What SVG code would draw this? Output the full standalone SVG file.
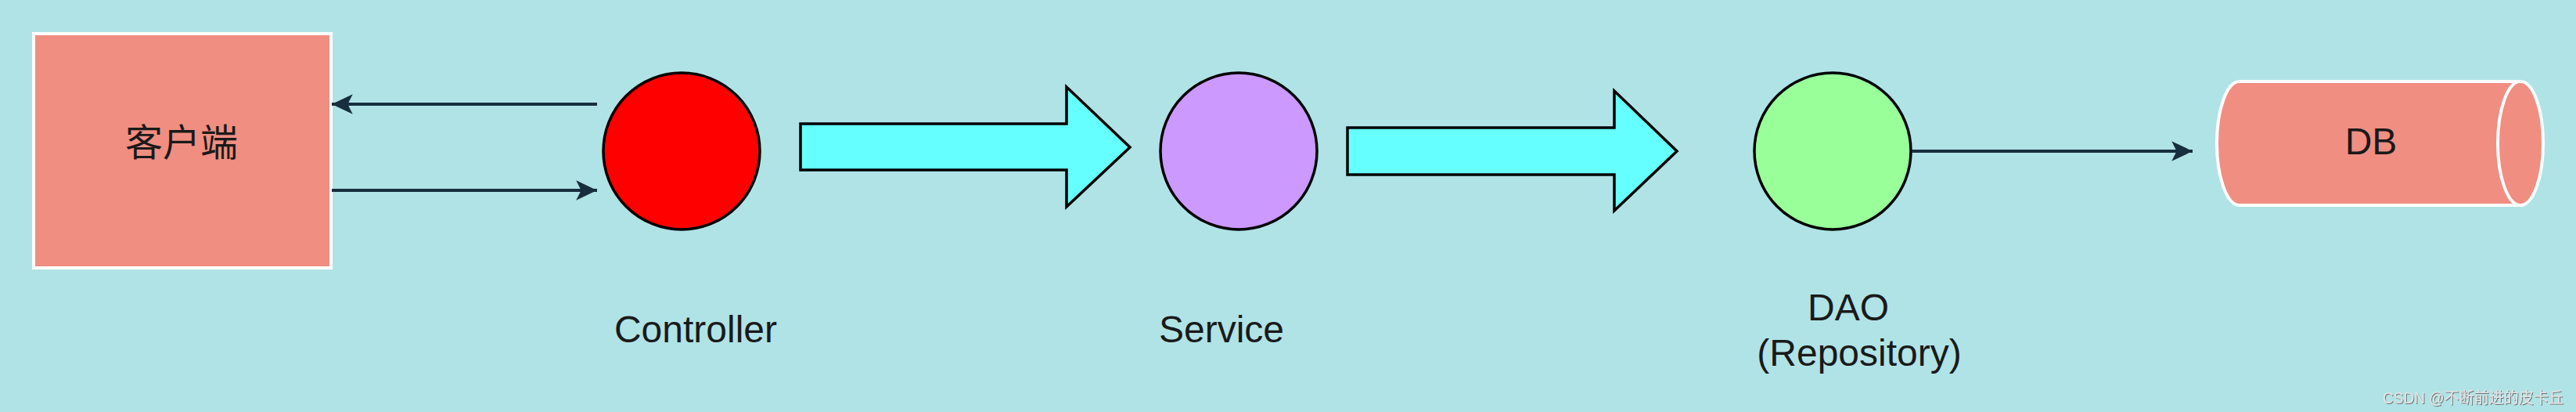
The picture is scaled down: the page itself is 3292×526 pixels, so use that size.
<svg xmlns="http://www.w3.org/2000/svg" width="3292" height="526" viewBox="0 0 3292 526">
<style>
.lbl{font-family:"Liberation Sans",Arial,sans-serif;font-size:48px;fill:#1a1a1a;text-anchor:middle}
.cjk{font-family:"Liberation Sans","Noto Sans CJK SC",sans-serif;font-size:48px;fill:#1a1a1a;text-anchor:middle}
.conn{stroke:#182e3e;stroke-width:4;fill:none}
.circ{stroke:#000;stroke-width:3.5}
.block{fill:#66ffff;stroke:#000;stroke-width:3.5;stroke-linejoin:miter}
.db{fill:#f08e81;stroke:#fff;stroke-width:4}
.wm{font-family:"Liberation Sans","Noto Sans CJK SC",sans-serif;font-size:20px;fill:#e4e4e4}
</style>
<defs>
<marker id="ah" markerUnits="userSpaceOnUse" markerWidth="30" markerHeight="30" viewBox="-26 -13 28 26" refX="0" refY="0" orient="auto">
<path d="M0,0 L-25,-12 L-19,0 L-25,12 Z" fill="#182e3e"/>
</marker>
<filter id="sh" x="-5%" y="-30%" width="110%" height="160%">
<feDropShadow dx="1" dy="1" stdDeviation="0.6" flood-color="#666" flood-opacity="0.9"/>
</filter>
</defs>
<rect width="3292" height="526" fill="#b0e3e6"/>
<g id="client">
<rect x="43" y="43" width="380" height="299" fill="#f08e81" stroke="#fff" stroke-width="4"/>
<text class="cjk" x="232" y="199">客户端</text>
</g>
<g id="controller">
<circle class="circ" cx="871" cy="193" r="100" fill="#ff0000"/>
<text class="lbl" x="889" y="437">Controller</text>
</g>
<g id="arrow1">
<path class="block" d="M1023,158 L1363,158 L1363,111 L1444,188 L1363,264 L1363,217 L1023,217 Z"/>
</g>
<g id="service">
<circle class="circ" cx="1583" cy="193" r="100" fill="#cc99ff"/>
<text class="lbl" x="1561" y="437">Service</text>
</g>
<g id="arrow2">
<path class="block" d="M1722,163 L2063,163 L2063,116 L2143,193 L2063,269 L2063,223 L1722,223 Z"/>
</g>
<g id="dao">
<circle class="circ" cx="2342" cy="193" r="100" fill="#99ff99"/>
<text class="lbl" x="2362" y="409">DAO</text>
<text class="lbl" x="2376" y="467">(Repository)</text>
</g>
<g id="db">
<path class="db" d="M3221,104 L2862,104 A29,79 0 0 0 2862,262 L3221,262 Z"/>
<ellipse class="db" cx="3221" cy="183" rx="29" ry="79"/>
<text class="lbl" x="3030" y="197">DB</text>
</g>
<g id="connectors">
<line class="conn" x1="763" y1="133" x2="424" y2="133" marker-end="url(#ah)"/>
<line class="conn" x1="424" y1="243" x2="763" y2="243" marker-end="url(#ah)"/>
<line class="conn" x1="2443" y1="193" x2="2802" y2="193" marker-end="url(#ah)"/>
</g>
<text class="wm" x="3045" y="515" textLength="231" lengthAdjust="spacingAndGlyphs" filter="url(#sh)">CSDN @不断前进的皮卡丘</text>
</svg>
